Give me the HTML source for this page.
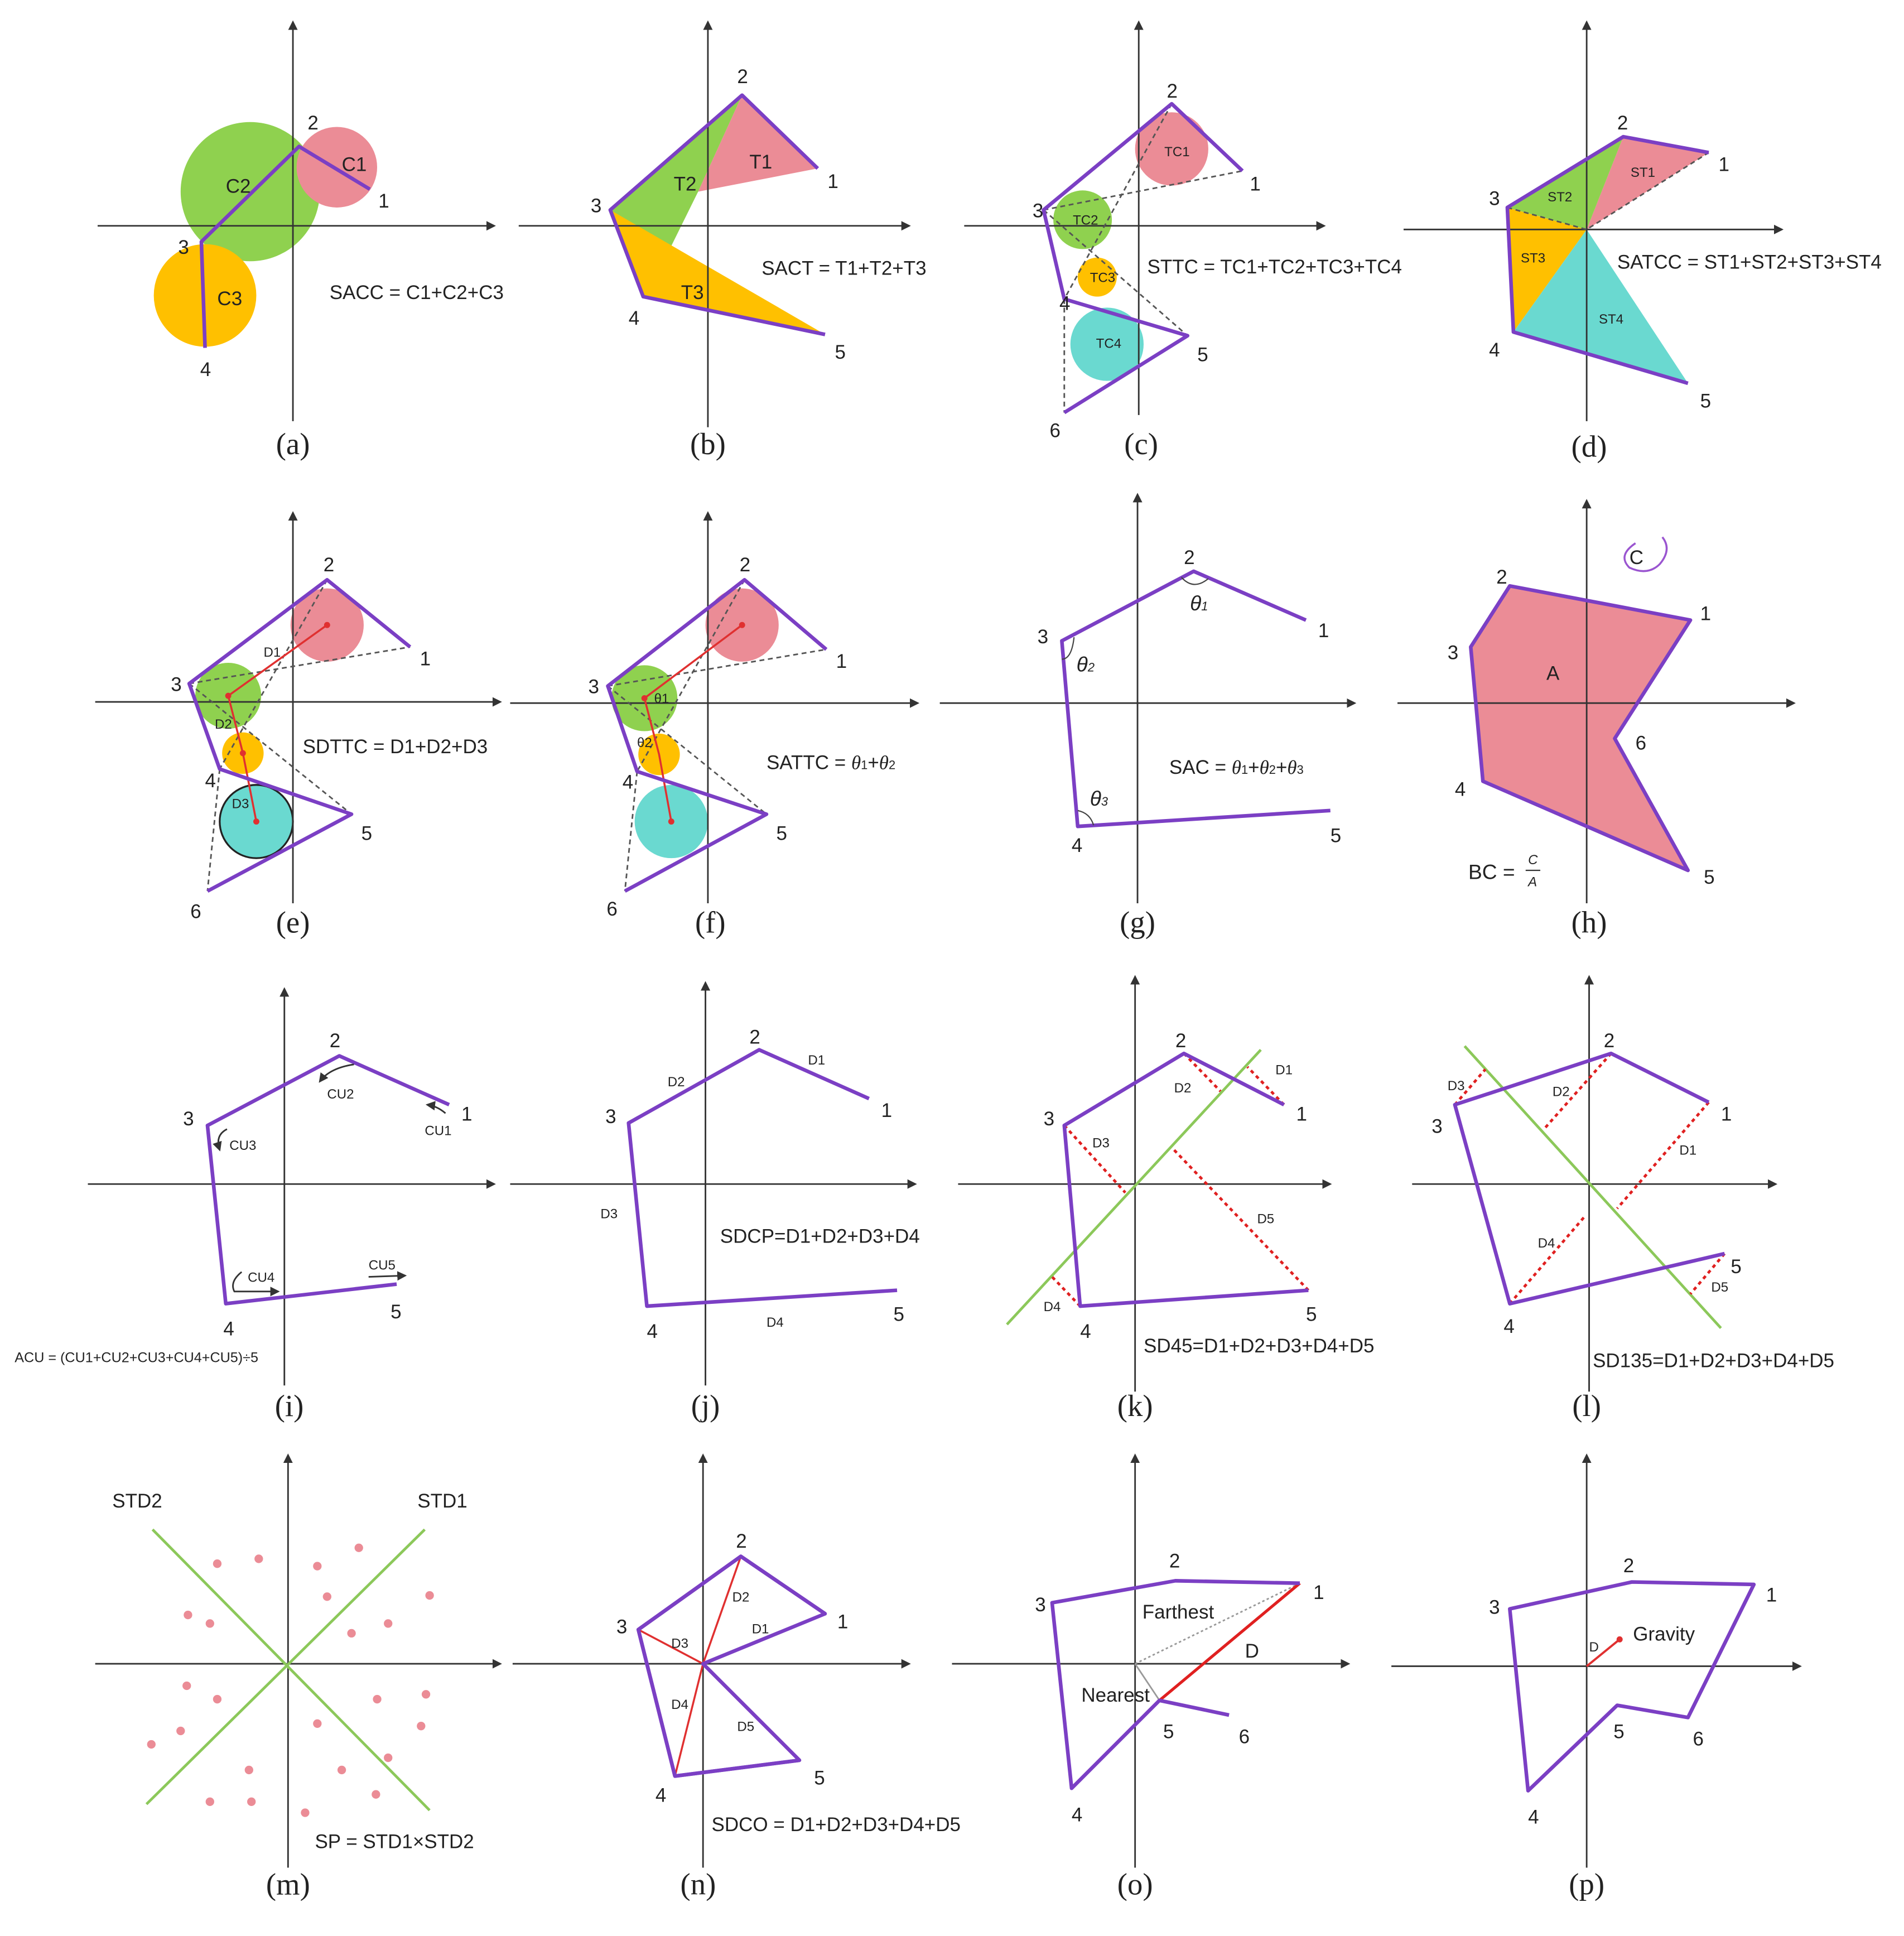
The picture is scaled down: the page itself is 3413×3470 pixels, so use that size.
<!DOCTYPE html>
<html><head><meta charset="utf-8"><style>
html,body{margin:0;padding:0;background:#fff;}
svg{display:block}
text{font-family:"Liberation Sans",sans-serif;fill:#222}
.ax{stroke:#333;stroke-width:1.3;fill:none}
.p{stroke:#7b3fc4;stroke-width:3;fill:none;stroke-linejoin:round}
.d{stroke:#555;stroke-width:1.3;stroke-dasharray:4,3;fill:none}
.r{stroke:#e03030;stroke-width:1.6;fill:none}
.rd{stroke:#e02020;stroke-width:2.2;stroke-dasharray:3,3;fill:none}
.g{stroke:#8cc85a;stroke-width:2.2;fill:none}
.n{font-size:16px}
.cap{font-family:"Liberation Serif",serif;font-size:25px;text-anchor:middle}
.lb{font-size:16px}
.s{font-size:11px}
</style></head><body>
<svg width="3413" height="3470" viewBox="0 0 1560 1586" preserveAspectRatio="none" xmlns="http://www.w3.org/2000/svg">
<defs><marker id="ar" markerWidth="6" markerHeight="6" refX="5" refY="3" orient="auto"><path d="M0,0 L6,3 L0,6 z" fill="#333"/></marker></defs>

<!-- (a) -->
<circle cx="205" cy="157" r="57" fill="#8fd14f"/>
<circle cx="276" cy="137" r="33" fill="#eb8c96"/>
<circle cx="168" cy="242" r="42" fill="#ffc000"/>
<line class="ax" x1="80" y1="185" x2="405" y2="185" marker-end="url(#ar)"/>
<line class="ax" x1="240" y1="345" x2="240" y2="18" marker-end="url(#ar)"/>
<polyline class="p" points="303,155 245,120 165,198 168,285"/>
<text class="n" x="310" y="170">1</text><text class="n" x="252" y="106">2</text><text class="n" x="146" y="208">3</text><text class="n" x="164" y="308">4</text>
<text class="lb" x="280" y="140">C1</text><text class="lb" x="185" y="158">C2</text><text class="lb" x="178" y="250">C3</text>
<text class="lb" x="270" y="245">SACC = C1+C2+C3</text>
<text class="cap" x="240" y="372">(a)</text>

<!-- (b) -->
<polygon points="500,172 608,78 572,157 530,242" fill="#8fd14f"/>
<polygon points="608,78 670,138 572,157" fill="#eb8c96"/>
<polygon points="500,172 676,274 527,243" fill="#ffc000"/>
<line class="ax" x1="425" y1="185" x2="745" y2="185" marker-end="url(#ar)"/>
<line class="ax" x1="580" y1="350" x2="580" y2="18" marker-end="url(#ar)"/>
<polyline class="p" points="676,274 527,243 500,172 608,78 670,138"/>
<text class="n" x="678" y="154">1</text><text class="n" x="604" y="68">2</text><text class="n" x="484" y="174">3</text><text class="n" x="515" y="266">4</text><text class="n" x="684" y="294">5</text>
<text class="lb" x="614" y="138">T1</text><text class="lb" x="552" y="156">T2</text><text class="lb" x="558" y="245">T3</text>
<text class="lb" x="624" y="225">SACT = T1+T2+T3</text>
<text class="cap" x="580" y="372">(b)</text>

<!-- (c) -->
<circle cx="960" cy="122" r="30" fill="#eb8c96"/>
<circle cx="887" cy="180" r="24" fill="#8fd14f"/>
<circle cx="899" cy="227" r="16" fill="#ffc000"/>
<circle cx="907" cy="282" r="30" fill="#6ad9d0"/>
<line class="ax" x1="790" y1="185" x2="1085" y2="185" marker-end="url(#ar)"/>
<line class="ax" x1="933" y1="340" x2="933" y2="18" marker-end="url(#ar)"/>
<polyline class="d" points="855,172 1018,140"/><polyline class="d" points="960,85 872,245"/><polyline class="d" points="855,172 973,275"/><polyline class="d" points="872,245 872,338"/>
<polyline class="p" points="1018,140 960,85 855,172 872,245 973,275 872,338"/>
<text class="n" x="1024" y="156">1</text><text class="n" x="956" y="80">2</text><text class="n" x="846" y="178">3</text><text class="n" x="868" y="254">4</text><text class="n" x="981" y="296">5</text><text class="n" x="860" y="358">6</text>
<text class="s" x="954" y="128">TC1</text><text class="s" x="879" y="184">TC2</text><text class="s" x="893" y="231">TC3</text><text class="s" x="898" y="285">TC4</text>
<text class="lb" x="940" y="224">STTC = TC1+TC2+TC3+TC4</text>
<text class="cap" x="935" y="372">(c)</text>

<!-- (d) -->
<polygon points="1300,188 1330,112 1400,125" fill="#eb8c96"/>
<polygon points="1300,188 1235,170 1330,112" fill="#8fd14f"/>
<polygon points="1300,188 1235,170 1240,272" fill="#ffc000"/>
<polygon points="1300,188 1240,272 1383,314" fill="#6ad9d0"/>
<line class="ax" x1="1150" y1="188" x2="1460" y2="188" marker-end="url(#ar)"/>
<line class="ax" x1="1300" y1="345" x2="1300" y2="18" marker-end="url(#ar)"/>
<polyline class="d" points="1235,170 1300,188 1400,125"/>
<polyline class="p" points="1400,125 1330,112 1235,170 1240,272 1383,314"/>
<text class="n" x="1408" y="140">1</text><text class="n" x="1325" y="106">2</text><text class="n" x="1220" y="168">3</text><text class="n" x="1220" y="292">4</text><text class="n" x="1393" y="334">5</text>
<text class="s" x="1336" y="145">ST1</text><text class="s" x="1268" y="165">ST2</text><text class="s" x="1246" y="215">ST3</text><text class="s" x="1310" y="265">ST4</text>
<text class="lb" x="1325" y="220">SATCC = ST1+ST2+ST3+ST4</text>
<text class="cap" x="1302" y="374">(d)</text>

<!-- (e) -->
<circle cx="268" cy="512" r="30" fill="#eb8c96"/>
<circle cx="187" cy="570" r="27" fill="#8fd14f"/>
<circle cx="199" cy="617" r="17" fill="#ffc000"/>
<circle cx="210" cy="673" r="30" fill="#6ad9d0" stroke="#222" stroke-width="1.5"/>
<line class="ax" x1="78" y1="575" x2="410" y2="575" marker-end="url(#ar)"/>
<line class="ax" x1="240" y1="740" x2="240" y2="420" marker-end="url(#ar)"/>
<polyline class="d" points="155,560 336,530"/><polyline class="d" points="268,475 180,630"/><polyline class="d" points="155,560 288,667"/><polyline class="d" points="180,630 170,730"/>
<polyline class="r" points="268,512 187,570 199,617 210,673"/>
<circle cx="268" cy="512" r="2.5" fill="#e03030"/><circle cx="187" cy="570" r="2.5" fill="#e03030"/><circle cx="199" cy="617" r="2.5" fill="#e03030"/><circle cx="210" cy="673" r="2.5" fill="#e03030"/>
<polyline class="p" points="336,530 268,475 155,560 180,630 288,667 170,730"/>
<text class="n" x="344" y="545">1</text><text class="n" x="265" y="468">2</text><text class="n" x="140" y="566">3</text><text class="n" x="168" y="645">4</text><text class="n" x="296" y="688">5</text><text class="n" x="156" y="752">6</text>
<text class="s" x="216" y="538">D1</text><text class="s" x="176" y="597">D2</text><text class="s" x="190" y="662">D3</text>
<text class="lb" x="248" y="617">SDTTC = D1+D2+D3</text>
<text class="cap" x="240" y="764">(e)</text>

<!-- (f) -->
<circle cx="608" cy="512" r="30" fill="#eb8c96"/>
<circle cx="528" cy="572" r="27" fill="#8fd14f"/>
<circle cx="540" cy="618" r="17" fill="#ffc000"/>
<circle cx="550" cy="673" r="30" fill="#6ad9d0"/>
<line class="ax" x1="418" y1="576" x2="752" y2="576" marker-end="url(#ar)"/>
<line class="ax" x1="580" y1="740" x2="580" y2="420" marker-end="url(#ar)"/>
<polyline class="d" points="498,562 677,532"/><polyline class="d" points="610,475 522,632"/><polyline class="d" points="498,562 628,667"/><polyline class="d" points="522,632 512,730"/>
<polyline class="r" points="608,512 528,572 540,618 550,673"/>
<circle cx="608" cy="512" r="2.5" fill="#e03030"/><circle cx="528" cy="572" r="2.5" fill="#e03030"/><circle cx="550" cy="673" r="2.5" fill="#e03030"/>
<polyline class="p" points="677,532 610,475 498,562 522,632 628,667 512,730"/>
<text class="n" x="685" y="547">1</text><text class="n" x="606" y="468">2</text><text class="n" x="482" y="568">3</text><text class="n" x="510" y="646">4</text><text class="n" x="636" y="688">5</text><text class="n" x="497" y="750">6</text>
<text class="s" x="536" y="576">θ1</text><text class="s" x="522" y="612">θ2</text>
<text class="lb" x="628" y="630">SATTC = <tspan font-style="italic" font-family="Liberation Serif">θ</tspan><tspan font-size="10">1</tspan>+<tspan font-style="italic" font-family="Liberation Serif">θ</tspan><tspan font-size="10">2</tspan></text>
<text class="cap" x="582" y="764">(f)</text>

<!-- (g) -->
<line class="ax" x1="770" y1="576" x2="1110" y2="576" marker-end="url(#ar)"/>
<line class="ax" x1="932" y1="740" x2="932" y2="405" marker-end="url(#ar)"/>
<polyline class="p" points="1070,508 978,468 870,525 883,677 1090,664"/>
<path d="M968,473 Q978,484 990,474" stroke="#444" fill="none"/><path d="M870,540 Q878,540 880,522" stroke="#444" fill="none"/><path d="M883,664 Q893,666 896,676" stroke="#444" fill="none"/>
<text class="n" x="1080" y="522">1</text><text class="n" x="970" y="462">2</text><text class="n" x="850" y="527">3</text><text class="n" x="878" y="698">4</text><text class="n" x="1090" y="690">5</text>
<text x="975" y="500" font-family="Liberation Serif" font-style="italic" font-size="17">θ<tspan font-size="10">1</tspan></text>
<text x="882" y="550" font-family="Liberation Serif" font-style="italic" font-size="17">θ<tspan font-size="10">2</tspan></text>
<text x="893" y="660" font-family="Liberation Serif" font-style="italic" font-size="17">θ<tspan font-size="10">3</tspan></text>
<text class="lb" x="958" y="634">SAC = <tspan font-style="italic" font-family="Liberation Serif">θ</tspan><tspan font-size="10">1</tspan>+<tspan font-style="italic" font-family="Liberation Serif">θ</tspan><tspan font-size="10">2</tspan>+<tspan font-style="italic" font-family="Liberation Serif">θ</tspan><tspan font-size="10">3</tspan></text>
<text class="cap" x="932" y="764">(g)</text>

<!-- (h) -->
<polygon points="1237,480 1385,508 1323,605 1383,713 1215,640 1205,530" fill="#eb8c96"/>
<line class="ax" x1="1145" y1="576" x2="1470" y2="576" marker-end="url(#ar)"/>
<line class="ax" x1="1300" y1="740" x2="1300" y2="410" marker-end="url(#ar)"/>
<polygon class="p" points="1237,480 1385,508 1323,605 1383,713 1215,640 1205,530"/>
<path d="M1340,445 Q1325,455 1335,465 Q1350,472 1360,462 Q1370,450 1362,440" stroke="#9a55d0" stroke-width="1.6" fill="none"/>
<text class="n" x="1335" y="462">C</text>
<text class="n" x="1393" y="508">1</text><text class="n" x="1226" y="478">2</text><text class="n" x="1186" y="540">3</text><text class="n" x="1192" y="652">4</text><text class="n" x="1396" y="724">5</text><text class="n" x="1340" y="614">6</text>
<text class="lb" x="1267" y="557">A</text>
<text x="1203" y="720" font-family="Liberation Serif" font-size="17">BC = </text>
<text x="1252" y="708" font-family="Liberation Serif" font-style="italic" font-size="11">C</text><line x1="1250" y1="713" x2="1262" y2="713" stroke="#333"/><text x="1252" y="726" font-family="Liberation Serif" font-style="italic" font-size="11">A</text>
<text class="cap" x="1302" y="764">(h)</text>

<!-- (i) -->
<line class="ax" x1="72" y1="970" x2="405" y2="970" marker-end="url(#ar)"/>
<line class="ax" x1="233" y1="1135" x2="233" y2="810" marker-end="url(#ar)"/>
<polyline class="p" points="368,905 278,865 170,922 185,1068 325,1052"/>
<text class="n" x="378" y="918">1</text><text class="n" x="270" y="858">2</text><text class="n" x="150" y="922">3</text><text class="n" x="183" y="1094">4</text><text class="n" x="320" y="1080">5</text>
<text class="s" x="348" y="930">CU1</text><text class="s" x="268" y="900">CU2</text><text class="s" x="188" y="942">CU3</text><text class="s" x="203" y="1050">CU4</text><text class="s" x="302" y="1040">CU5</text>
<path d="M290,872 Q270,875 262,886" class="ax" marker-end="url(#ar)"/><path d="M365,912 Q358,906 350,905" class="ax" marker-end="url(#ar)"/>
<path d="M186,925 Q176,930 180,942" class="ax" marker-end="url(#ar)"/><path d="M198,1042 Q188,1050 192,1058 L228,1058" class="ax" marker-end="url(#ar)"/><path d="M302,1046 L332,1045" class="ax" marker-end="url(#ar)"/>
<text x="12" y="1116" font-size="11.5">ACU = (CU1+CU2+CU3+CU4+CU5)÷5</text>
<text class="cap" x="237" y="1160">(i)</text>

<!-- (j) -->
<line class="ax" x1="418" y1="970" x2="750" y2="970" marker-end="url(#ar)"/>
<line class="ax" x1="578" y1="1135" x2="578" y2="805" marker-end="url(#ar)"/>
<polyline class="p" points="712,900 622,860 515,920 530,1070 735,1057"/>
<text class="n" x="722" y="915">1</text><text class="n" x="614" y="855">2</text><text class="n" x="496" y="920">3</text><text class="n" x="530" y="1096">4</text><text class="n" x="732" y="1082">5</text>
<text class="s" x="662" y="872">D1</text><text class="s" x="547" y="890">D2</text><text class="s" x="492" y="998">D3</text><text class="s" x="628" y="1087">D4</text>
<text class="lb" x="590" y="1018">SDCP=D1+D2+D3+D4</text>
<text class="cap" x="578" y="1160">(j)</text>

<!-- (k) -->
<line class="ax" x1="785" y1="970" x2="1090" y2="970" marker-end="url(#ar)"/>
<line class="ax" x1="930" y1="1140" x2="930" y2="800" marker-end="url(#ar)"/>
<line class="g" x1="825" y1="1085" x2="1033" y2="860"/>
<line class="rd" x1="970" y1="863" x2="1000" y2="894"/><line class="rd" x1="1052" y1="905" x2="1022" y2="874"/><line class="rd" x1="872" y1="922" x2="922" y2="977"/><line class="rd" x1="885" y1="1070" x2="862" y2="1046"/><line class="rd" x1="1072" y1="1057" x2="960" y2="940"/>
<polyline class="p" points="1052,905 970,863 872,922 885,1070 1072,1057"/>
<text class="n" x="1062" y="918">1</text><text class="n" x="963" y="858">2</text><text class="n" x="855" y="922">3</text><text class="n" x="885" y="1096">4</text><text class="n" x="1070" y="1082">5</text>
<text class="s" x="1045" y="880">D1</text><text class="s" x="962" y="895">D2</text><text class="s" x="895" y="940">D3</text><text class="s" x="855" y="1074">D4</text><text class="s" x="1030" y="1002">D5</text>
<text class="lb" x="937" y="1108">SD45=D1+D2+D3+D4+D5</text>
<text class="cap" x="930" y="1160">(k)</text>

<!-- (l) -->
<line class="ax" x1="1157" y1="970" x2="1455" y2="970" marker-end="url(#ar)"/>
<line class="ax" x1="1302" y1="1140" x2="1302" y2="800" marker-end="url(#ar)"/>
<line class="g" x1="1200" y1="857" x2="1410" y2="1088"/>
<line class="rd" x1="1192" y1="905" x2="1217" y2="876"/><line class="rd" x1="1320" y1="863" x2="1265" y2="925"/><line class="rd" x1="1400" y1="903" x2="1325" y2="990"/><line class="rd" x1="1237" y1="1068" x2="1298" y2="997"/><line class="rd" x1="1413" y1="1027" x2="1385" y2="1060"/>
<polyline class="p" points="1400,903 1320,863 1192,905 1237,1068 1413,1027"/>
<text class="n" x="1410" y="918">1</text><text class="n" x="1314" y="858">2</text><text class="n" x="1173" y="928">3</text><text class="n" x="1232" y="1092">4</text><text class="n" x="1418" y="1043">5</text>
<text class="s" x="1186" y="893">D3</text><text class="s" x="1272" y="898">D2</text><text class="s" x="1376" y="946">D1</text><text class="s" x="1260" y="1022">D4</text><text class="s" x="1402" y="1058">D5</text>
<text class="lb" x="1305" y="1120">SD135=D1+D2+D3+D4+D5</text>
<text class="cap" x="1300" y="1160">(l)</text>

<!-- (m) -->
<line class="ax" x1="78" y1="1363" x2="410" y2="1363" marker-end="url(#ar)"/>
<line class="ax" x1="236" y1="1530" x2="236" y2="1192" marker-end="url(#ar)"/>
<line class="g" x1="125" y1="1253" x2="352" y2="1483"/><line class="g" x1="348" y1="1253" x2="120" y2="1478"/>
<g fill="#eb8c96">
<circle cx="178" cy="1281" r="3.5"/><circle cx="212" cy="1277" r="3.5"/><circle cx="260" cy="1283" r="3.5"/><circle cx="294" cy="1268" r="3.5"/><circle cx="268" cy="1308" r="3.5"/><circle cx="352" cy="1307" r="3.5"/><circle cx="154" cy="1323" r="3.5"/><circle cx="172" cy="1330" r="3.5"/><circle cx="288" cy="1338" r="3.5"/><circle cx="318" cy="1330" r="3.5"/>
<circle cx="153" cy="1381" r="3.5"/><circle cx="178" cy="1392" r="3.5"/><circle cx="309" cy="1392" r="3.5"/><circle cx="349" cy="1388" r="3.5"/><circle cx="148" cy="1418" r="3.5"/><circle cx="124" cy="1429" r="3.5"/><circle cx="260" cy="1412" r="3.5"/><circle cx="345" cy="1414" r="3.5"/><circle cx="204" cy="1450" r="3.5"/><circle cx="280" cy="1450" r="3.5"/><circle cx="318" cy="1440" r="3.5"/><circle cx="172" cy="1476" r="3.5"/><circle cx="206" cy="1476" r="3.5"/><circle cx="250" cy="1485" r="3.5"/><circle cx="308" cy="1470" r="3.5"/>
</g>
<text class="lb" x="92" y="1235">STD2</text><text class="lb" x="342" y="1235">STD1</text>
<text class="lb" x="258" y="1514">SP = STD1×STD2</text>
<text class="cap" x="236" y="1552">(m)</text>

<!-- (n) -->
<line class="ax" x1="420" y1="1363" x2="745" y2="1363" marker-end="url(#ar)"/>
<line class="ax" x1="576" y1="1530" x2="576" y2="1192" marker-end="url(#ar)"/>
<g class="r"><line x1="576" y1="1363" x2="607" y2="1275"/><line x1="576" y1="1363" x2="676" y2="1322"/><line x1="576" y1="1363" x2="523" y2="1335"/><line x1="576" y1="1363" x2="553" y2="1455"/><line x1="576" y1="1363" x2="655" y2="1442"/></g>
<polygon class="p" points="607,1275 676,1322 576,1363 655,1442 553,1455 523,1335"/>
<polyline class="p" points="676,1322 607,1275 523,1335 553,1455 655,1442"/>
<text class="n" x="686" y="1334">1</text><text class="n" x="603" y="1268">2</text><text class="n" x="505" y="1338">3</text><text class="n" x="537" y="1476">4</text><text class="n" x="667" y="1462">5</text>
<text class="s" x="600" y="1312">D2</text><text class="s" x="616" y="1338">D1</text><text class="s" x="550" y="1350">D3</text><text class="s" x="550" y="1400">D4</text><text class="s" x="604" y="1418">D5</text>
<text class="lb" x="583" y="1500">SDCO = D1+D2+D3+D4+D5</text>
<text class="cap" x="572" y="1552">(n)</text>

<!-- (o) -->
<line class="ax" x1="780" y1="1363" x2="1105" y2="1363" marker-end="url(#ar)"/>
<line class="ax" x1="930" y1="1530" x2="930" y2="1192" marker-end="url(#ar)"/>
<line x1="930" y1="1363" x2="1065" y2="1297" stroke="#999" stroke-width="1.3" stroke-dasharray="2,2"/>
<line x1="930" y1="1363" x2="950" y2="1393" stroke="#999" stroke-width="1.3"/>
<line x1="1065" y1="1297" x2="950" y2="1393" stroke="#e02020" stroke-width="2.4"/>
<polyline class="p" points="1065,1297 963,1295 862,1313 878,1465 950,1393 1007,1405"/>
<text class="n" x="1076" y="1310">1</text><text class="n" x="958" y="1284">2</text><text class="n" x="848" y="1320">3</text><text class="n" x="878" y="1492">4</text><text class="n" x="953" y="1424">5</text><text class="n" x="1015" y="1428">6</text>
<text class="lb" x="936" y="1326">Farthest</text><text class="lb" x="886" y="1394">Nearest</text><text class="lb" x="1020" y="1358">D</text>
<text class="cap" x="930" y="1552">(o)</text>

<!-- (p) -->
<line class="ax" x1="1140" y1="1365" x2="1475" y2="1365" marker-end="url(#ar)"/>
<line class="ax" x1="1300" y1="1530" x2="1300" y2="1192" marker-end="url(#ar)"/>
<line x1="1300" y1="1365" x2="1327" y2="1343" stroke="#e03030" stroke-width="1.8"/>
<circle cx="1327" cy="1343" r="2.5" fill="#e03030"/>
<polygon class="p" points="1437,1298 1337,1296 1237,1318 1252,1467 1325,1397 1383,1407"/>
<text class="n" x="1447" y="1312">1</text><text class="n" x="1330" y="1288">2</text><text class="n" x="1220" y="1322">3</text><text class="n" x="1252" y="1494">4</text><text class="n" x="1322" y="1424">5</text><text class="n" x="1387" y="1430">6</text>
<text class="lb" x="1338" y="1344">Gravity</text><text class="s" x="1302" y="1353">D</text>
<text class="cap" x="1300" y="1552">(p)</text>
</svg>
</body></html>
